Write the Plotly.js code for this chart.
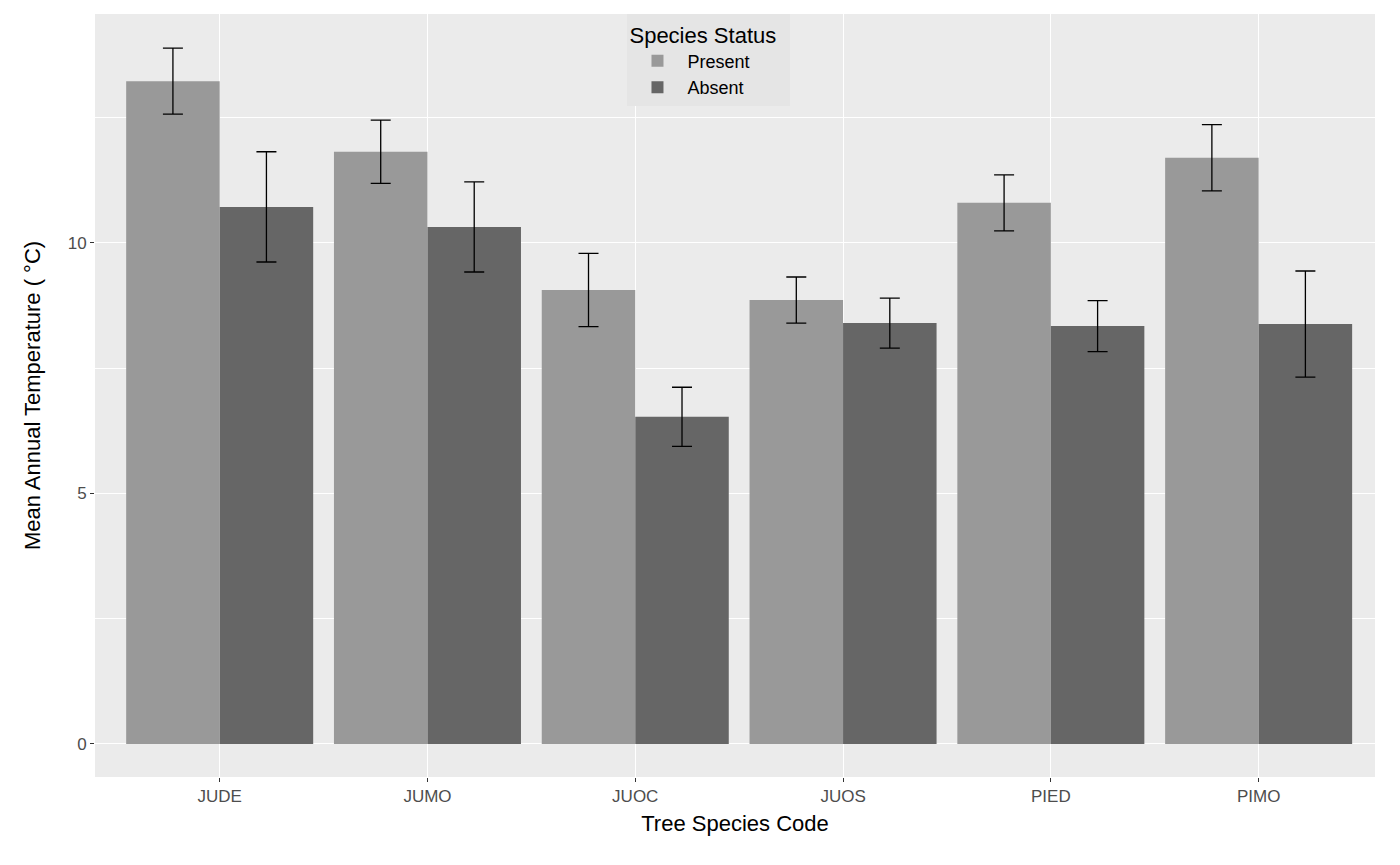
<!DOCTYPE html>
<html>
<head>
<meta charset="utf-8">
<script src="https://cdn.plot.ly/plotly-3.0.1.min.js"></script>
<style>body{margin:0;background:#fff}</style>
</head>
<body>
<div id="chart" style="width:1400px;height:865px"></div>
<script>
const species = ["JUDE", "JUMO", "JUOC", "JUOS", "PIED", "PIMO"];
const presentMean = [13.23, 11.82, 9.06, 8.86, 10.80, 11.70];
const presentErr = [0.66, 0.63, 0.73, 0.46, 0.56, 0.66];
const absentMean = [10.72, 10.32, 6.53, 8.40, 8.34, 8.38];
const absentErr = [1.10, 0.90, 0.59, 0.50, 0.51, 1.06];

const errStyle = (arr) => ({type: "data", array: arr, visible: true, color: "black", thickness: 1.3, width: 10});

const traces = [
  {x: species, y: presentMean, type: "bar", name: "Present", marker: {color: "#999999"}, error_y: errStyle(presentErr)},
  {x: species, y: absentMean, type: "bar", name: "Absent", marker: {color: "#666666"}, error_y: errStyle(absentErr)}
];

const layout = {
  barmode: "group",
  bargap: 0.1,
  bargroupgap: 0,
  paper_bgcolor: "white",
  plot_bgcolor: "#EBEBEB",
  font: {family: "Liberation Sans, Arial, sans-serif"},
  margin: {l: 95, r: 25, t: 14, b: 88},
  xaxis: {
    range: [-0.6, 5.56],
    showgrid: true, gridcolor: "white", gridwidth: 1.2,
    ticks: "outside", ticklen: 4, tickcolor: "#333333",
    tickfont: {size: 17, color: "#4D4D4D"},
    title: {text: "Tree Species Code", font: {size: 22, color: "black"}, standoff: 10}
  },
  yaxis: {
    range: [-0.66, 14.57], tickvals: [0, 5, 10], zeroline: false,
    showgrid: true, gridcolor: "white", gridwidth: 1.2,
    minor: {dtick: 2.5, tick0: 0, showgrid: true, gridcolor: "white", gridwidth: 0.6},
    ticks: "outside", ticklen: 4, tickcolor: "#333333",
    tickfont: {size: 17, color: "#4D4D4D"},
    title: {text: "Mean Annual Temperature ( °C)", font: {size: 22, color: "black"}, standoff: 20}
  },
  legend: {
    x: 0.416, y: 1, xanchor: "left", yanchor: "top",
    bgcolor: "#E5E5E5",
    title: {text: "Species Status  ", font: {size: 22, color: "black"}},
    font: {size: 18, color: "black"},
    itemwidth: 50,
    tracegroupgap: 18,
    traceorder: "normal"
  }
};

Plotly.newPlot("chart", traces, layout, {displayModeBar: false});
</script>
</body>
</html>
